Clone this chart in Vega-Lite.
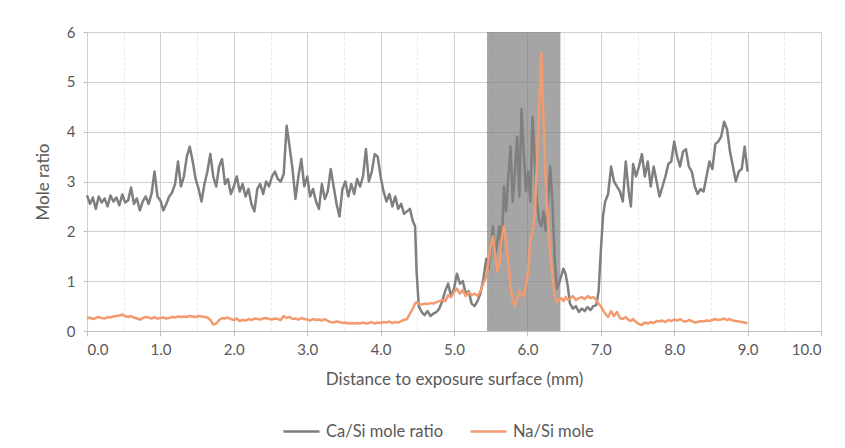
{
"$schema": "https://vega.github.io/schema/vega-lite/v6.json",
"width": 734, "height": 299,
"autosize": {"type": "none"},
"padding": {"left": 87, "top": 32, "right": 24, "bottom": 117},
"background": "white",
"config": {"font": "Lato", "view": {"stroke": null},
"axisX": {"titleFont": "Lato", "titleFontSize": 17, "titleFontWeight": "normal", "titleColor": "#595959", "titlePadding": 14,
"values": [0,0.2,0.4,0.6,0.8,1,1.2,1.4,1.6,1.8,2,2.2,2.4,2.6,2.8,3,3.2,3.4,3.6,3.8,4,4.2,4.4,4.6,4.8,5,5.2,5.4,5.6,5.8,6,6.2,6.4,6.6,6.8,7,7.2,7.4,7.6,7.8,8,8.2,8.4,8.6,8.8,9,9.2,9.4,9.6,9.8,10],
"labelExpr": "datum.value % 1 === 0 ? format(datum.value, '.1f') : ''",
"labelOverlap": false, "labelBound": false, "labelFontSize": 15, "labelColor": "#595959", "labelPadding": 6,
"domainColor": "#bfbfbf", "domainWidth": 1,
"tickColor": {"condition": {"test": "datum.value % 1 === 0", "value": "#bfbfbf"}, "value": "rgba(0,0,0,0)"}, "tickSize": 5,
"gridColor": {"condition": {"test": "datum.value % 1 === 0", "value": "#d0d0d0"}, "value": "#e8e8e8"},
"gridDash": {"condition": {"test": "datum.value % 1 === 0", "value": []}, "value": [3, 2]},
"gridWidth": 1},
"axisY": {"titleFont": "Lato", "titleFontSize": 17, "titleFontWeight": "normal", "titleColor": "#595959", "titlePadding": 14,
"values": [0,0.2,0.4,0.6,0.8,1,1.2,1.4,1.6,1.8,2,2.2,2.4,2.6,2.8,3,3.2,3.4,3.6,3.8,4,4.2,4.4,4.6,4.8,5,5.2,5.4,5.6,5.8,6],
"labelExpr": "datum.value % 1 === 0 ? format(datum.value, 'd') : ''",
"labelOverlap": false, "labelBound": false, "labelFontSize": 15, "labelColor": "#595959", "labelPadding": 8,
"domain": false,
"tickColor": {"condition": {"test": "datum.value % 1 === 0", "value": "#bfbfbf"}, "value": "rgba(0,0,0,0)"}, "tickSize": 4,
"gridColor": {"condition": {"test": "datum.value % 1 === 0", "value": "#d0d0d0"}, "value": "#e8e8e8"},
"gridDash": {"condition": {"test": "datum.value % 1 === 0", "value": []}, "value": [3, 2]},
"gridWidth": 1}
},
"datasets": {
"band": [{"start": 5.45, "end": 6.45}],
"profile": [
{"d":0.00,"ca":2.72,"na":0.25},{"d":0.04,"ca":2.55,"na":0.27},{"d":0.08,"ca":2.68,"na":0.24},{"d":0.12,"ca":2.45,"na":0.26},{"d":0.16,"ca":2.70,"na":0.28},{"d":0.20,"ca":2.58,"na":0.26},{"d":0.24,"ca":2.66,"na":0.25},{"d":0.28,"ca":2.50,"na":0.28},{"d":0.32,"ca":2.72,"na":0.27},{"d":0.36,"ca":2.60,"na":0.29},{"d":0.40,"ca":2.68,"na":0.30},{"d":0.44,"ca":2.52,"na":0.31},{"d":0.48,"ca":2.74,"na":0.33},{"d":0.52,"ca":2.58,"na":0.30},{"d":0.56,"ca":2.62,"na":0.28},{"d":0.60,"ca":2.88,"na":0.30},{"d":0.64,"ca":2.55,"na":0.27},{"d":0.68,"ca":2.66,"na":0.25},{"d":0.72,"ca":2.42,"na":0.23},{"d":0.76,"ca":2.60,"na":0.26},{"d":0.80,"ca":2.70,"na":0.28},{"d":0.84,"ca":2.55,"na":0.27},{"d":0.88,"ca":2.76,"na":0.25},{"d":0.92,"ca":3.20,"na":0.28},{"d":0.96,"ca":2.70,"na":0.25},
{"d":1.00,"ca":2.62,"na":0.26},{"d":1.04,"ca":2.42,"na":0.27},{"d":1.08,"ca":2.55,"na":0.25},{"d":1.12,"ca":2.70,"na":0.26},{"d":1.16,"ca":2.78,"na":0.28},{"d":1.20,"ca":2.95,"na":0.27},{"d":1.24,"ca":3.40,"na":0.29},{"d":1.28,"ca":2.90,"na":0.28},{"d":1.32,"ca":3.10,"na":0.29},{"d":1.36,"ca":3.50,"na":0.28},{"d":1.40,"ca":3.70,"na":0.30},{"d":1.44,"ca":3.40,"na":0.29},{"d":1.48,"ca":3.05,"na":0.28},{"d":1.52,"ca":2.85,"na":0.30},{"d":1.56,"ca":2.60,"na":0.29},{"d":1.60,"ca":2.95,"na":0.28},{"d":1.64,"ca":3.20,"na":0.27},{"d":1.68,"ca":3.55,"na":0.22},{"d":1.72,"ca":3.10,"na":0.13},{"d":1.76,"ca":2.90,"na":0.15},{"d":1.80,"ca":3.30,"na":0.22},{"d":1.84,"ca":3.45,"na":0.26},{"d":1.88,"ca":2.95,"na":0.25},{"d":1.92,"ca":3.05,"na":0.27},{"d":1.96,"ca":2.75,"na":0.24},
{"d":2.00,"ca":2.90,"na":0.22},{"d":2.04,"ca":3.10,"na":0.25},{"d":2.08,"ca":2.80,"na":0.20},{"d":2.12,"ca":2.95,"na":0.22},{"d":2.16,"ca":2.70,"na":0.21},{"d":2.20,"ca":2.85,"na":0.24},{"d":2.24,"ca":2.55,"na":0.22},{"d":2.28,"ca":2.40,"na":0.25},{"d":2.32,"ca":2.85,"na":0.24},{"d":2.36,"ca":2.95,"na":0.23},{"d":2.40,"ca":2.75,"na":0.25},{"d":2.44,"ca":3.00,"na":0.26},{"d":2.48,"ca":2.90,"na":0.24},{"d":2.52,"ca":3.10,"na":0.23},{"d":2.56,"ca":3.20,"na":0.25},{"d":2.60,"ca":3.05,"na":0.24},{"d":2.64,"ca":3.00,"na":0.22},{"d":2.68,"ca":3.15,"na":0.30},{"d":2.72,"ca":4.12,"na":0.26},{"d":2.76,"ca":3.70,"na":0.28},{"d":2.80,"ca":3.25,"na":0.24},{"d":2.84,"ca":2.65,"na":0.25},{"d":2.88,"ca":3.10,"na":0.23},{"d":2.92,"ca":3.45,"na":0.26},{"d":2.96,"ca":2.90,"na":0.24},
{"d":3.00,"ca":3.10,"na":0.23},{"d":3.04,"ca":2.70,"na":0.21},{"d":3.08,"ca":2.85,"na":0.24},{"d":3.12,"ca":2.60,"na":0.22},{"d":3.16,"ca":2.45,"na":0.23},{"d":3.20,"ca":2.95,"na":0.21},{"d":3.24,"ca":2.65,"na":0.24},{"d":3.28,"ca":2.80,"na":0.20},{"d":3.32,"ca":3.25,"na":0.18},{"d":3.36,"ca":2.90,"na":0.17},{"d":3.40,"ca":2.55,"na":0.19},{"d":3.44,"ca":2.30,"na":0.18},{"d":3.48,"ca":2.85,"na":0.16},{"d":3.52,"ca":3.00,"na":0.17},{"d":3.56,"ca":2.70,"na":0.15},{"d":3.60,"ca":2.95,"na":0.16},{"d":3.64,"ca":2.75,"na":0.15},{"d":3.68,"ca":3.05,"na":0.16},{"d":3.72,"ca":2.90,"na":0.15},{"d":3.76,"ca":3.10,"na":0.17},{"d":3.80,"ca":3.65,"na":0.15},{"d":3.84,"ca":3.00,"na":0.16},{"d":3.88,"ca":3.20,"na":0.18},{"d":3.92,"ca":3.55,"na":0.15},{"d":3.96,"ca":3.50,"na":0.17},
{"d":4.00,"ca":3.10,"na":0.16},{"d":4.04,"ca":2.80,"na":0.18},{"d":4.08,"ca":2.60,"na":0.17},{"d":4.12,"ca":2.75,"na":0.19},{"d":4.16,"ca":2.50,"na":0.16},{"d":4.20,"ca":2.70,"na":0.18},{"d":4.24,"ca":2.45,"na":0.17},{"d":4.28,"ca":2.55,"na":0.20},{"d":4.32,"ca":2.35,"na":0.22},{"d":4.36,"ca":2.40,"na":0.24},{"d":4.40,"ca":2.45,"na":0.35},{"d":4.44,"ca":2.20,"na":0.45},{"d":4.47,"ca":2.10,"na":0.55},{"d":4.49,"ca":1.20,"na":0.58},{"d":4.52,"ca":0.50,"na":0.55},{"d":4.56,"ca":0.38,"na":0.53},{"d":4.60,"ca":0.32,"na":0.55},{"d":4.64,"ca":0.40,"na":0.54},{"d":4.68,"ca":0.30,"na":0.56},{"d":4.72,"ca":0.35,"na":0.55},{"d":4.76,"ca":0.38,"na":0.58},{"d":4.80,"ca":0.45,"na":0.60},{"d":4.84,"ca":0.60,"na":0.62},{"d":4.88,"ca":0.80,"na":0.60},{"d":4.92,"ca":0.95,"na":0.72},{"d":4.96,"ca":0.70,"na":0.68},
{"d":5.00,"ca":0.85,"na":0.78},{"d":5.04,"ca":1.15,"na":0.85},{"d":5.08,"ca":0.95,"na":0.75},{"d":5.12,"ca":1.00,"na":0.82},{"d":5.16,"ca":0.75,"na":0.70},{"d":5.20,"ca":0.80,"na":0.78},{"d":5.24,"ca":0.55,"na":0.72},{"d":5.28,"ca":0.50,"na":0.75},{"d":5.32,"ca":0.60,"na":0.70},{"d":5.36,"ca":0.75,"na":0.80},{"d":5.40,"ca":1.05,"na":0.95},{"d":5.44,"ca":1.45,"na":1.10},{"d":5.47,"ca":1.25,"na":1.40},{"d":5.50,"ca":1.60,"na":1.70},{"d":5.53,"ca":2.10,"na":1.90},{"d":5.56,"ca":1.50,"na":1.55},{"d":5.59,"ca":1.80,"na":1.20},{"d":5.62,"ca":2.10,"na":1.35},{"d":5.65,"ca":1.60,"na":1.85},{"d":5.68,"ca":2.90,"na":2.10},{"d":5.71,"ca":2.40,"na":1.80},{"d":5.74,"ca":3.10,"na":1.40},{"d":5.77,"ca":3.70,"na":0.90},{"d":5.80,"ca":2.60,"na":0.60},{"d":5.83,"ca":3.20,"na":0.50},{"d":5.86,"ca":3.90,"na":0.65},{"d":5.89,"ca":2.70,"na":0.80},{"d":5.92,"ca":4.45,"na":0.75},{"d":5.95,"ca":3.60,"na":0.70},{"d":5.98,"ca":2.80,"na":0.90},
{"d":6.01,"ca":3.20,"na":1.20},{"d":6.04,"ca":2.60,"na":1.80},{"d":6.07,"ca":4.30,"na":2.00},{"d":6.10,"ca":3.40,"na":2.30},{"d":6.13,"ca":2.60,"na":3.40},{"d":6.16,"ca":2.20,"na":4.50},{"d":6.19,"ca":2.10,"na":5.58},{"d":6.22,"ca":2.40,"na":4.20},{"d":6.25,"ca":2.00,"na":3.00},{"d":6.28,"ca":2.60,"na":2.20},{"d":6.31,"ca":3.30,"na":1.60},{"d":6.34,"ca":2.60,"na":1.10},{"d":6.37,"ca":1.50,"na":0.75},{"d":6.40,"ca":0.85,"na":0.58},{"d":6.43,"ca":0.95,"na":0.62},{"d":6.46,"ca":1.10,"na":0.66},{"d":6.49,"ca":1.25,"na":0.60},{"d":6.52,"ca":1.15,"na":0.68},{"d":6.55,"ca":0.90,"na":0.63},{"d":6.58,"ca":0.55,"na":0.65},{"d":6.62,"ca":0.45,"na":0.70},{"d":6.66,"ca":0.50,"na":0.62},{"d":6.70,"ca":0.38,"na":0.66},{"d":6.74,"ca":0.45,"na":0.68},{"d":6.78,"ca":0.40,"na":0.64},{"d":6.82,"ca":0.48,"na":0.70},{"d":6.86,"ca":0.42,"na":0.66},{"d":6.90,"ca":0.50,"na":0.68},{"d":6.94,"ca":0.52,"na":0.62},{"d":6.97,"ca":0.80,"na":0.55},
{"d":7.00,"ca":1.60,"na":0.50},{"d":7.03,"ca":2.30,"na":0.42},{"d":7.06,"ca":2.60,"na":0.35},{"d":7.10,"ca":2.75,"na":0.28},{"d":7.14,"ca":3.30,"na":0.40},{"d":7.18,"ca":3.00,"na":0.30},{"d":7.22,"ca":2.90,"na":0.38},{"d":7.26,"ca":2.80,"na":0.26},{"d":7.30,"ca":2.60,"na":0.24},{"d":7.34,"ca":3.40,"na":0.28},{"d":7.38,"ca":2.80,"na":0.22},{"d":7.41,"ca":2.50,"na":0.20},{"d":7.44,"ca":3.35,"na":0.24},{"d":7.48,"ca":3.10,"na":0.18},{"d":7.52,"ca":3.30,"na":0.14},{"d":7.56,"ca":3.55,"na":0.12},{"d":7.60,"ca":3.10,"na":0.17},{"d":7.64,"ca":3.40,"na":0.15},{"d":7.68,"ca":2.90,"na":0.18},{"d":7.72,"ca":3.30,"na":0.16},{"d":7.76,"ca":3.00,"na":0.20},{"d":7.80,"ca":2.70,"na":0.19},{"d":7.84,"ca":2.90,"na":0.21},{"d":7.88,"ca":3.10,"na":0.18},{"d":7.92,"ca":3.35,"na":0.22},{"d":7.96,"ca":3.40,"na":0.20},
{"d":8.00,"ca":3.80,"na":0.23},{"d":8.04,"ca":3.50,"na":0.21},{"d":8.08,"ca":3.30,"na":0.24},{"d":8.12,"ca":3.60,"na":0.20},{"d":8.16,"ca":3.65,"na":0.19},{"d":8.20,"ca":3.30,"na":0.22},{"d":8.24,"ca":3.20,"na":0.20},{"d":8.28,"ca":2.90,"na":0.17},{"d":8.32,"ca":2.75,"na":0.18},{"d":8.36,"ca":2.85,"na":0.20},{"d":8.40,"ca":2.80,"na":0.19},{"d":8.44,"ca":3.10,"na":0.21},{"d":8.48,"ca":3.40,"na":0.20},{"d":8.52,"ca":3.25,"na":0.22},{"d":8.56,"ca":3.75,"na":0.24},{"d":8.60,"ca":3.80,"na":0.22},{"d":8.64,"ca":3.90,"na":0.23},{"d":8.68,"ca":4.20,"na":0.25},{"d":8.72,"ca":4.05,"na":0.22},{"d":8.76,"ca":3.60,"na":0.24},{"d":8.80,"ca":3.30,"na":0.21},{"d":8.84,"ca":3.00,"na":0.20},{"d":8.88,"ca":3.20,"na":0.19},{"d":8.92,"ca":3.25,"na":0.18},{"d":8.96,"ca":3.70,"na":0.17},{"d":9.00,"ca":3.20,"na":0.15}
]
},
"layer": [
{
"data": {"name": "band"},
"mark": {"type": "rect", "color": "#7f7f7f", "opacity": 0.7},
"encoding": {
"x": {"field": "start", "type": "quantitative", "scale": {"domain": [0, 10], "nice": false}, "title": "Distance to exposure surface (mm)"},
"x2": {"field": "end"}
}
},
{
"data": {"name": "profile"},
"transform": [{"fold": ["ca", "na"], "as": ["series", "v"]}],
"mark": {"type": "line", "strokeWidth": 2.5, "strokeJoin": "round"},
"encoding": {
"x": {"field": "d", "type": "quantitative", "scale": {"domain": [0, 10], "nice": false}, "title": "Distance to exposure surface (mm)"},
"y": {"field": "v", "type": "quantitative", "scale": {"domain": [0, 6], "nice": false}, "title": "Mole ratio"},
"color": {"field": "series", "type": "nominal",
"scale": {"domain": ["ca", "na"], "range": ["#7f7f7f", "#F39B70"]},
"legend": {"title": null, "orient": "none", "legendX": 195, "legendY": 380, "direction": "horizontal",
"labelExpr": "datum.label == 'ca' ? 'Ca/Si mole ratio' : 'Na/Si mole'",
"symbolType": "stroke", "symbolSize": 1300, "symbolStrokeWidth": 2.5,
"labelFont": "Lato", "labelFontSize": 16.5, "labelColor": "#595959", "labelOffset": 5, "columnPadding": 22}
}
}
}
]
}
